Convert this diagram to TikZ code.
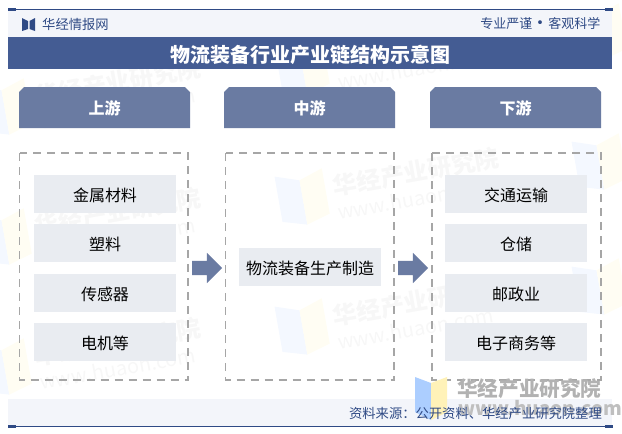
\documentclass[tikz,border=0pt]{standalone}
\usepackage{fontspec}
\setmainfont{Noto Sans CJK SC}
\usetikzlibrary{shapes.arrows}
\definecolor{navy}{HTML}{445C93}
\definecolor{slate}{HTML}{6A7BA2}
\definecolor{band}{HTML}{F3F5FA}
\definecolor{cell}{HTML}{E9ECF1}
\definecolor{ink}{HTML}{2F4A85}
\definecolor{markblue}{HTML}{ACCEFF}
\definecolor{markyellow}{HTML}{FFF2B8}
\definecolor{tileblue}{HTML}{F4F8FF}
\definecolor{tileyellow}{HTML}{FFFDF3}
\definecolor{tiletext}{HTML}{F7F7F7}
\tikzset{
  head/.style={fill=slate,text=white,font=\fontsize{16}{16}\selectfont\bfseries},
  cellbox/.style={fill=cell,minimum width=142,minimum height=38,inner sep=0,text height=15,text depth=0,font=\fontsize{16}{16}\selectfont},
  panel/.style={draw=black!35,line width=1.5,dash pattern=on 8 off 6},
  flow/.style={single arrow,fill=slate,minimum height=30,inner xsep=0,inner ysep=7,single arrow head extend=8,single arrow tip angle=90},
  tab/.style={fill=ink},
  small/.style={text=ink,inner sep=0,font=\fontsize{13.3}{13.3}\selectfont}
}
\begin{document}
\begin{tikzpicture}[x=1pt,y=-1pt]
\useasboundingbox (0,0) rectangle (622,434);
% faint tiles behind everything
\foreach \tx/\ty in {5/110,5/240,5/370,303/70,303/200,303/330,600/35,600/165,600/290} {
\begin{scope}[shift={(\tx,\ty)},rotate=10]
\fill [tileblue] (-24,-28) -- (0,-20) -- (0,25) -- (-24,18) -- cycle;
\fill [tileyellow] (24,-28) -- (0,-20) -- (0,25) -- (24,18) -- cycle;
\end{scope}
}
\foreach \tx/\ty in {5/110,5/240,5/370,303/70,303/200,303/330} {
\begin{scope}[shift={(\tx,\ty)},rotate=10]
\node [right,text=tiletext,transform shape,inner sep=0,font=\fontsize{24}{24}\selectfont\bfseries] at (32,-8) {华经产业研究院};
\node [right,text=tiletext,transform shape,inner sep=0,font=\fontsize{20}{20}\selectfont] at (32,18) {www.huaon.com};
\end{scope}
}
% top and bottom bands
\fill [band] (8,10) rectangle (612,37);
\fill [navy] (8,37) rectangle (612,69);
\fill [band] (8,399) rectangle (612,426);
\draw [ink,line width=.8] (8,9.5) -- (613,9.5);
\draw [ink,line width=.8] (8,426.3) -- (613,426.3);
\fill [tab] (8,8.3) rectangle (16,10.8);
\fill [tab] (605,8.3) rectangle (613,10.8);
\fill [tab] (8,425) rectangle (16,427.5);
\fill [tab] (605,425) rectangle (613,427.5);
% small logo
\fill [ink] (22,18) -- (28,21) -- (28,29) -- (22,31) -- cycle;
\fill [ink] (35,18) -- (29.5,21) -- (29.5,29) -- (35,31) -- cycle;
\node [small,right] (site) at (42,24) {华经情报网};
\node [small,left,font=\fontsize{13}{13}\selectfont] (motto) at (600.5,23.5) {专业严谨\makebox[16pt]{\fontsize{18}{13}\selectfont\raisebox{-1.5pt}{•}}客观科学};
\node [text=white,font=\fontsize{20}{20}\selectfont\bfseries] (title) at (310.5,54.5) {物流装备行业产业链结构示意图};
% heads
\fill [head] (19,128) -- (19,92) -- (24,87) -- (185,87) -- (190,92) -- (190,128) -- cycle;
\fill [head] (224,128) -- (224,92) -- (229,87) -- (390,87) -- (395,92) -- (395,128) -- cycle;
\fill [head] (430,128) -- (430,92) -- (435,87) -- (596,87) -- (601,92) -- (601,128) -- cycle;
\node [head,fill=none] (up) at (104.5,108) {上游};
\node [head,fill=none] (mid) at (309.5,108) {中游};
\node [head,fill=none] (down) at (515.5,108) {下游};
% panels
\draw [panel] (19.5,153) rectangle (188,380);
\draw [panel] (225.5,153) rectangle (394,380);
\draw [panel] (432,153) rectangle (601,380);
% cells
\node [cellbox] (metal) at (105,193.5) {金属材料};
\node [cellbox] (plastic) at (105,243) {塑料};
\node [cellbox] (sensor) at (105,293) {传感器};
\node [cellbox] (motor) at (105,342) {电机等};
\node [cellbox] (make) at (310,267) {物流装备生产制造};
\node [cellbox] (traffic) at (516,193.5) {交通运输};
\node [cellbox] (store) at (516,243) {仓储};
\node [cellbox] (post) at (516,293) {邮政业};
\node [cellbox] (shop) at (516,342) {电子商务等};
% arrows
\node [flow] (flowa) at (203.5,268) {};
\node [flow] (flowb) at (409.5,268) {};
% watermark at the foot
\fill [markblue] (415,377) -- (431,383) -- (431,420) -- (415,412) -- cycle;
\fill [markyellow] (447,377) -- (431,383) -- (431,420) -- (447,412) -- cycle;
\node [right,text=black!30,inner sep=0,font=\fontsize{20.6}{21}\selectfont\bfseries] (markname) at (457,389) {华经产业研究院};
\node [right,text=black!25,inner sep=0,font=\fontsize{19}{19}\selectfont\bfseries] (markurl) at (458,408) {www.huaon.com};
\node [small,left] (source) at (602,413) {资料来源：公开资料、华经产业研究院整理};
\end{tikzpicture}
\end{document}
